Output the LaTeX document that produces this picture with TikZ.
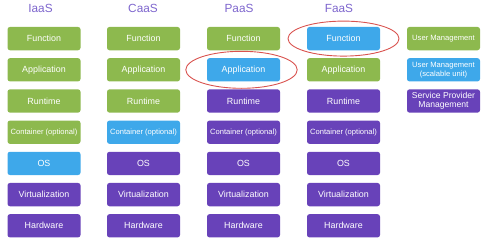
\documentclass[tikz,border=0pt]{standalone}
\usepackage{fontspec}
\setmainfont{Liberation Sans}
\definecolor{cgreen}{HTML}{8DB94E}
\definecolor{cblue}{HTML}{3EA8EA}
\definecolor{cpurple}{HTML}{6842B9}
\definecolor{chead}{HTML}{7D65CD}
\definecolor{cred}{HTML}{D9534F}
\begin{document}
\begin{tikzpicture}[x=1pt,y=-1pt,
  layer/.style={rounded corners=2.5pt,minimum width=73pt,minimum height=23.3pt,inner sep=0pt,
    text=white,font=\fontsize{8.9}{9.8}\selectfont,align=center},
  g/.style={layer,fill=cgreen},
  b/.style={layer,fill=cblue},
  p/.style={layer,fill=cpurple},
  small/.style={font=\fontsize{7.6}{9}\selectfont},
  head/.style={text=chead,font=\fontsize{11.8}{13}\selectfont},
  ring/.style={draw=cred,line width=0.9pt}]
\useasboundingbox (0,0) rectangle (498,244);
% headers
\node[head] (hI) at (40.5,8.7) {IaaS};
\node[head] (hC) at (143,8.7) {CaaS};
\node[head] (hP) at (239,8.7) {PaaS};
\node[head] (hF) at (339,8.7) {FaaS};
% IaaS
\node[g] (i1) at (44,38.6) {Function};
\node[g] (i2) at (44,69.8) {Application};
\node[g] (i3) at (44,101) {Runtime};
\node[g,small] (i4) at (44,132.2) {Container (optional)};
\node[b] (i5) at (44,163.4) {OS};
\node[p] (i6) at (44,194.6) {Virtualization};
\node[p] (i7) at (44,225.8) {Hardware};
% CaaS
\node[g] (c1) at (143.5,38.6) {Function};
\node[g] (c2) at (143.5,69.8) {Application};
\node[g] (c3) at (143.5,101) {Runtime};
\node[b,small] (c4) at (143.5,132.2) {Container (optional)};
\node[p] (c5) at (143.5,163.4) {OS};
\node[p] (c6) at (143.5,194.6) {Virtualization};
\node[p] (c7) at (143.5,225.8) {Hardware};
% PaaS
\node[g] (p1) at (243.5,38.6) {Function};
\node[b] (p2) at (243.5,69.8) {Application};
\node[p] (p3) at (243.5,101) {Runtime};
\node[p,small] (p4) at (243.5,132.2) {Container (optional)};
\node[p] (p5) at (243.5,163.4) {OS};
\node[p] (p6) at (243.5,194.6) {Virtualization};
\node[p] (p7) at (243.5,225.8) {Hardware};
% FaaS
\node[b] (f1) at (343.5,38.6) {Function};
\node[g] (f2) at (343.5,69.8) {Application};
\node[p] (f3) at (343.5,101) {Runtime};
\node[p,small] (f4) at (343.5,132.2) {Container (optional)};
\node[p] (f5) at (343.5,163.4) {OS};
\node[p] (f6) at (343.5,194.6) {Virtualization};
\node[p] (f7) at (343.5,225.8) {Hardware};
% legend column
\node[g,small] (u1) at (443.5,38.6) {User Management};
\node[b,small] (u2) at (443.5,69.8) {User Management\\(scalable unit)};
\node[p,font=\fontsize{8.6}{9.2}\selectfont] (u3) at (443.5,101) {Service Provider\\Management};
% highlight ellipses
\draw[ring] (f1) ellipse [x radius=55.5pt, y radius=17.5pt];
\draw[ring] ([xshift=-2pt]p2.center) ellipse [x radius=55.7pt, y radius=18.5pt];
\end{tikzpicture}
\end{document}
